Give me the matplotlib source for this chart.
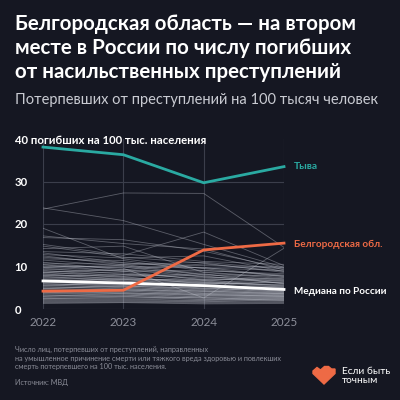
import matplotlib.pyplot as plt
from matplotlib.patches import Polygon

years = [2022, 2023, 2024, 2025]

tyva = [38.1, 36.3, 29.7, 33.5]
belgorod = [4.2, 4.4, 13.9, 15.5]
median = [6.6, 6.1, 5.5, 4.6]

# other regions
regions = [
    [23.5, 27.3, 27.2, 14.5],
    [23.8, 20.8, 15.2, 9.8],
    [19.0, 11.8, 9.5, 7.6],
    [15.2, 12.6, 18.1, 10.2],
    [14.2, 14.8, 8.6, 7.1],
    [16.8, 16.3, 13.6, 9.6],
    [17.2, 15.4, 14.1, 9.2],
    [10.5, 9.6, 2.6, 14.3],
    [13.5, 13.0, 11.2, 10.5],
    [12.8, 12.0, 12.5, 8.8],
    [12.2, 10.8, 10.2, 9.9],
    [11.8, 11.4, 9.0, 8.3],
    [11.5, 10.1, 9.8, 7.7],
    [11.0, 9.2, 10.6, 8.9],
    [10.8, 10.5, 8.1, 6.9],
    [10.4, 8.8, 8.7, 7.4],
    [10.1, 9.9, 7.6, 6.5],
    [9.8, 9.0, 9.1, 8.0],
    [9.6, 8.2, 7.3, 6.2],
    [9.3, 8.9, 6.8, 7.3],
    [9.1, 7.7, 8.3, 5.9],
    [8.9, 8.5, 7.0, 6.7],
    [8.7, 7.4, 6.4, 5.6],
    [8.5, 8.1, 7.8, 6.0],
    [8.3, 6.9, 6.9, 5.3],
    [8.1, 7.6, 5.9, 6.4],
    [7.9, 7.2, 6.6, 5.1],
    [7.7, 6.5, 6.1, 5.8],
    [7.5, 7.0, 5.5, 4.9],
    [7.3, 6.8, 6.3, 5.5],
    [7.1, 6.2, 5.7, 4.6],
    [6.9, 6.6, 5.2, 5.2],
    [6.8, 5.9, 6.0, 4.4],
    [6.6, 6.3, 4.9, 4.8],
    [6.4, 5.6, 5.4, 4.1],
    [6.2, 5.8, 4.7, 4.5],
    [6.0, 5.3, 5.0, 3.9],
    [5.9, 5.5, 4.4, 4.2],
    [5.7, 5.0, 4.6, 3.7],
    [5.5, 5.2, 4.1, 4.0],
    [5.3, 4.7, 4.3, 3.5],
    [5.1, 4.9, 3.8, 3.8],
    [4.9, 4.4, 4.0, 3.3],
    [4.7, 4.6, 3.6, 3.6],
    [4.5, 4.1, 3.7, 3.1],
    [4.3, 4.3, 3.3, 3.4],
    [4.1, 3.8, 3.5, 2.9],
    [3.9, 3.9, 3.1, 3.2],
    [3.7, 3.5, 3.2, 2.7],
    [3.5, 3.6, 2.8, 3.0],
    [3.3, 3.2, 2.9, 2.5],
    [3.1, 3.3, 2.5, 2.8],
    [2.9, 2.9, 2.6, 2.3],
    [2.7, 3.0, 2.2, 2.6],
    [2.5, 2.6, 2.3, 2.1],
    [2.3, 2.4, 2.0, 2.4],
    [2.1, 2.2, 1.9, 1.9],
    [1.9, 2.0, 1.7, 2.2],
    [1.7, 1.8, 1.6, 1.7],
    [1.5, 1.6, 1.4, 1.5],
    [1.3, 1.5, 1.2, 1.3],
    [12.5, 10.4, 11.0, 9.4],
    [9.9, 10.2, 8.0, 7.9],
    [8.6, 9.3, 7.5, 6.8],
    [7.8, 8.0, 6.7, 6.1],
    [6.5, 7.1, 6.2, 5.0],
    [5.6, 6.0, 5.3, 4.7],
    [4.8, 5.4, 4.8, 4.3],
    [3.8, 4.5, 4.2, 3.6],
    [3.0, 3.7, 3.4, 3.0],
    [2.4, 2.8, 2.7, 2.0],
    [14.8, 12.2, 10.8, 8.6],
    [13.2, 10.9, 9.6, 9.1],
]

yticks = [0, 10, 20, 30, 40]
ytick_labels = ['0', '10', '20', '30', '40 погибших на 100 тыс. населения']

bg = '#151722'
grid = '#3b3e4b'
teal = '#2aaaa2'
orange = '#ee6a45'
font = 'Lato'

fig = plt.figure(figsize=(4, 4), dpi=100, facecolor=bg)
ax = fig.add_axes([0.1075, 0.2275, 0.6025, 0.425], facecolor=bg)

for r in regions:
    ax.plot(years, r, color='#c4c7d1', lw=0.6, alpha=0.4, zorder=2)

ax.plot(years, median, color='white', lw=2, zorder=4, clip_on=False)
ax.plot(years, belgorod, color=orange, lw=2, zorder=5, clip_on=False)
ax.plot(years, tyva, color=teal, lw=2, zorder=5, clip_on=False)

ax.set_xlim(2022, 2025)
ax.set_ylim(0, 40)
for yr in years:
    ax.axvline(yr, color=grid, lw=0.8, zorder=1)
for v in yticks[:-1]:
    ax.axhline(v, color=grid, lw=0.8, zorder=1)

for s in ax.spines.values():
    s.set_visible(False)

ax.set_xticks(years)
ax.set_xticklabels([str(y) for y in years], fontfamily=font, fontsize=8.5, color='#8c8e99')
ax.set_yticks(yticks)
ax.set_yticklabels(ytick_labels, fontfamily=font, fontsize=8.2, fontweight='bold', color='white')
for lbl in ax.get_yticklabels():
    lbl.set_ha('left')
ax.tick_params(axis='y', length=0, pad=20.5)
ax.tick_params(axis='x', length=0, pad=6)

ax.text(2025.12, tyva[-1], 'Тыва', color=teal, fontsize=7.4, fontweight='bold',
        fontfamily=font, va='center', ha='left')
ax.text(2025.12, belgorod[-1] - 0.2, 'Белгородская обл.', color=orange, fontsize=7.2,
        fontweight='bold', fontfamily=font, va='center', ha='left')
ax.text(2025.12, median[-1] - 0.4, 'Медиана по России', color='white', fontsize=7.2,
        fontweight='bold', fontfamily=font, va='center', ha='left')

fig.text(0.037, 1 - 24 / 400, 'Белгородская область — на втором', color='white',
         fontsize=14.8, fontweight='bold', fontfamily=font, va='center')
fig.text(0.037, 1 - 48.5 / 400, 'месте в России по числу погибших', color='white',
         fontsize=14.8, fontweight='bold', fontfamily=font, va='center')
fig.text(0.037, 1 - 72.5 / 400, 'от насильственных преступлений', color='white',
         fontsize=14.8, fontweight='bold', fontfamily=font, va='center')
fig.text(0.037, 1 - 100 / 400, 'Потерпевших от преступлений на 100 тысяч человек',
         color='#c9cbd2', fontsize=10.5, fontfamily=font, va='center')

note = ('Число лиц, потерпевших от преступлений, направленных\n'
        'на умышленное причинение смерти или тяжкого вреда здоровью и повлекших\n'
        'смерть потерпевшего на 100 тыс. населения.')
fig.text(0.037, 1 - 346 / 400, note, color='#8a8c97', fontsize=5.2, fontfamily=font,
         va='top', linespacing=1.25)
fig.text(0.037, 1 - 382 / 400, 'Источник: МВД', color='#8a8c97', fontsize=5.2,
         fontfamily=font, va='center')

# logo
logo_px = [(313, 371), (317, 367.5), (320.5, 370), (324.5, 366.5), (328.5, 366.5),
           (331.5, 369), (335, 369), (335, 373.5), (324, 384), (313, 373.5)]
logo = Polygon([(x / 400, 1 - y / 400) for x, y in logo_px], closed=True,
               transform=fig.transFigure, color=orange)
fig.patches.append(logo)
fig.text(342 / 400, 1 - 371 / 400, 'Если быть', color='white', fontsize=7.3,
         fontfamily=font, va='center')
fig.text(342 / 400, 1 - 380.5 / 400, 'точным', color='white', fontsize=7.3,
         fontfamily=font, va='center')

fig.savefig('out.png', dpi=100, facecolor=bg)
